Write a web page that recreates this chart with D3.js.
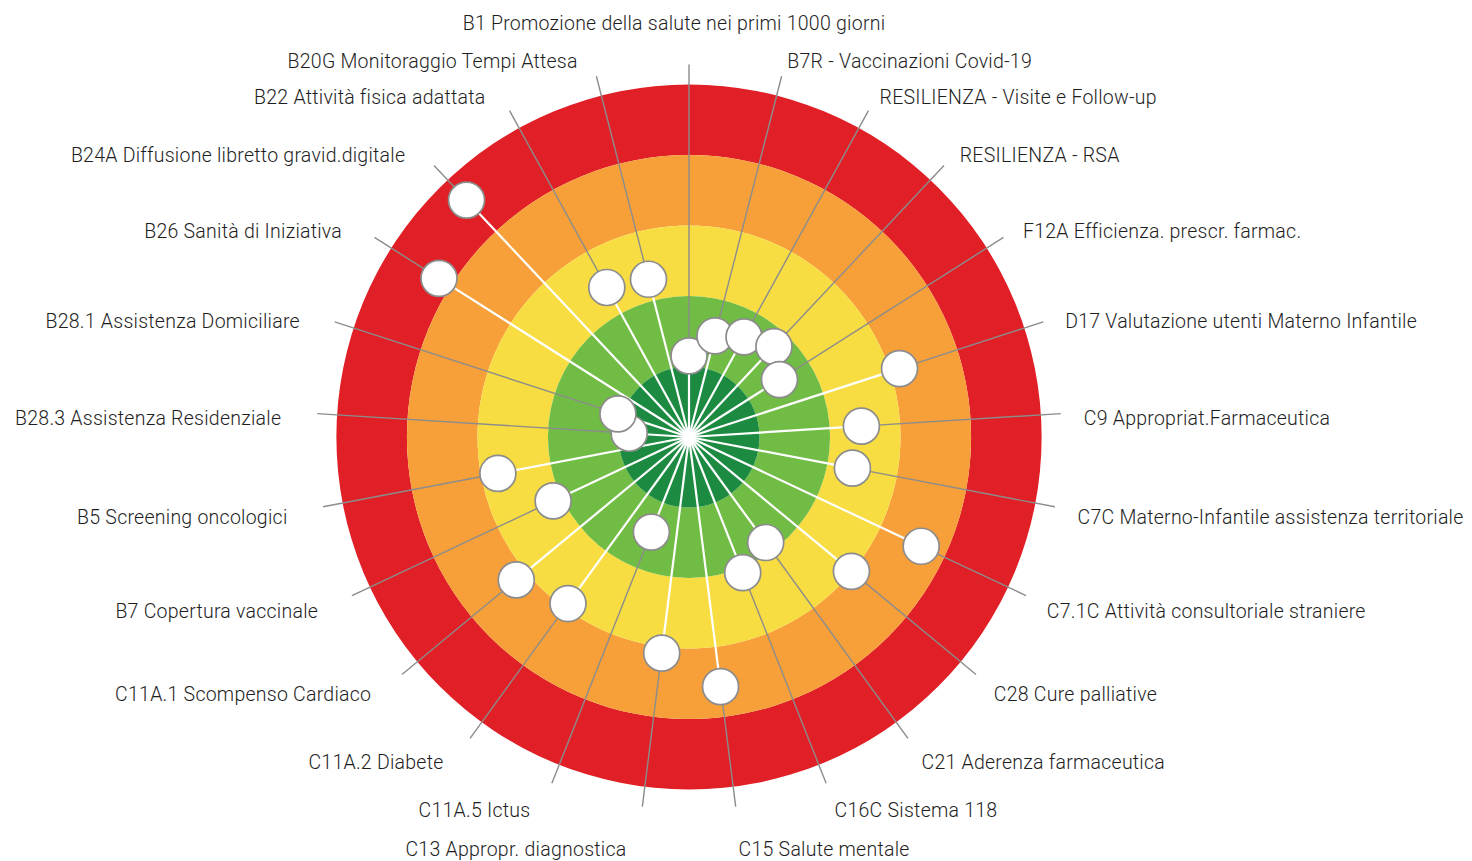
<!DOCTYPE html>
<html>
<head>
<meta charset="utf-8">
<script src="https://d3js.org/d3.v7.min.js"></script>
<style>
  body { margin: 0; background: #fff; }
  text { font-family: Roboto, sans-serif; font-weight: 300; font-size: 19.5px; letter-spacing: 0.25px; fill: #1e1e1e; }
</style>
</head>
<body>
<div id="chart"></div>
<script>
// indicators, clockwise from the top
var labels = [
  "B1 Promozione della salute nei primi 1000 giorni",
  "B7R - Vaccinazioni Covid-19",
  "RESILIENZA - Visite e Follow-up",
  "RESILIENZA - RSA",
  "F12A Efficienza. prescr. farmac.",
  "D17 Valutazione utenti Materno Infantile",
  "C9 Appropriat.Farmaceutica",
  "C7C Materno-Infantile assistenza territoriale",
  "C7.1C Attività consultoriale straniere",
  "C28 Cure palliative",
  "C21 Aderenza farmaceutica",
  "C16C Sistema 118",
  "C15 Salute mentale",
  "C13 Appropr. diagnostica",
  "C11A.5 Ictus",
  "C11A.2 Diabete",
  "C11A.1 Scompenso Cardiaco",
  "B7 Copertura vaccinale",
  "B5 Screening oncologici",
  "B28.3 Assistenza Residenziale",
  "B28.1 Assistenza Domiciliare",
  "B26 Sanità di Iniziativa",
  "B24A Diffusione libretto gravid.digitale",
  "B22 Attività fisica adattata",
  "B20G Monitoraggio Tempi Attesa"
];

// score 0 (outer, red) .. 5 (centre, dark green)
var scores = [
  3.85, 3.52, 3.38, 3.24, 3.48, 1.86, 2.55, 2.64, 1.36, 2.01,
  3.15, 2.93, 1.43, 1.91, 3.55, 2.08, 1.82, 2.87, 2.24, 4.15,
  3.94, 0.80, 0.39, 2.58, 2.69
];

// band limits of the target
var bandEdges = [0, 1, 2, 3, 4, 5];
var bandColors = ["#e01f26", "#f7a03a", "#f8dd42", "#71bc45", "#1c8b41"];

var width = 1472, height = 861;
var cx = 689, cy = 437;

var svg = d3.select("#chart")
  .append("svg")
    .attr("width", width)
    .attr("height", height)
  .append("g")
    .attr("transform", "translate(" + cx + "," + cy + ")");

// radial scale: 5 at the centre, 0 at the outer edge
var r = d3.scaleLinear().domain([5, 0]).range([0, 352.5]);
var angle = d3.scaleLinear().domain([0, labels.length]).range([0, 2 * Math.PI]);

var leaderR = r(0) + 20;

function px(a, rad) { return rad * Math.sin(a); }
function py(a, rad) { return -rad * Math.cos(a); }

// rings
var arc = d3.arc().startAngle(0).endAngle(2 * Math.PI);
svg.selectAll(".band")
  .data(d3.range(bandEdges.length - 1))
  .enter().append("path")
    .attr("class", "band")
    .attr("d", function(i) {
      return arc({innerRadius: r(bandEdges[i + 1]), outerRadius: r(bandEdges[i])});
    })
    .style("fill", function(i) { return bandColors[i]; });

var items = labels.map(function(l, i) {
  return {label: l, score: scores[i], a: angle(i)};
});

// grey leader lines from the dot out to the label
svg.selectAll(".leader")
  .data(items)
  .enter().append("line")
    .attr("x1", function(d) { return px(d.a, r(d.score)); })
    .attr("y1", function(d) { return py(d.a, r(d.score)); })
    .attr("x2", function(d) { return px(d.a, leaderR); })
    .attr("y2", function(d) { return py(d.a, leaderR); })
    .style("stroke", "#8c8c8c")
    .style("stroke-width", 1.4);

// white spokes from the centre to the dot
svg.selectAll(".spoke")
  .data(items)
  .enter().append("line")
    .attr("x1", 0).attr("y1", 0)
    .attr("x2", function(d) { return px(d.a, r(d.score)); })
    .attr("y2", function(d) { return py(d.a, r(d.score)); })
    .style("stroke", "#fff")
    .style("stroke-width", 2.2);

// dots
svg.selectAll(".dot")
  .data(items)
  .enter().append("circle")
    .attr("cx", function(d) { return px(d.a, r(d.score)); })
    .attr("cy", function(d) { return py(d.a, r(d.score)); })
    .attr("r", 18)
    .style("fill", "#fff")
    .style("stroke", "#8c8c8c")
    .style("stroke-width", 1.7);

// labels sit just past the end of each leader line
function labelX(a) {
  var s = Math.sin(a);
  if (Math.abs(s) < 0.01) return px(a, leaderR) - 15;
  return px(a, leaderR) + (s > 0 ? 23 * s : -(13 - 23 * s));
}
function labelY(a) {
  var s = Math.sin(a), c = Math.cos(a);
  if (Math.abs(s) < 0.15) return py(a, leaderR) + (c > 0 ? -41 : 43);
  return py(a, leaderR) + 6 - 22 * c;
}

svg.selectAll(".lbl")
  .data(items)
  .enter().append("text")
    .attr("x", function(d) { return labelX(d.a); })
    .attr("y", function(d) { return labelY(d.a); })
    .attr("dy", "0.35em")
    .style("text-anchor", function(d) {
      var s = Math.sin(d.a);
      if (Math.abs(s) < 0.01) return "middle";
      return s > 0 ? "start" : "end";
    })
    .text(function(d) { return d.label; });
</script>
</body>
</html>
